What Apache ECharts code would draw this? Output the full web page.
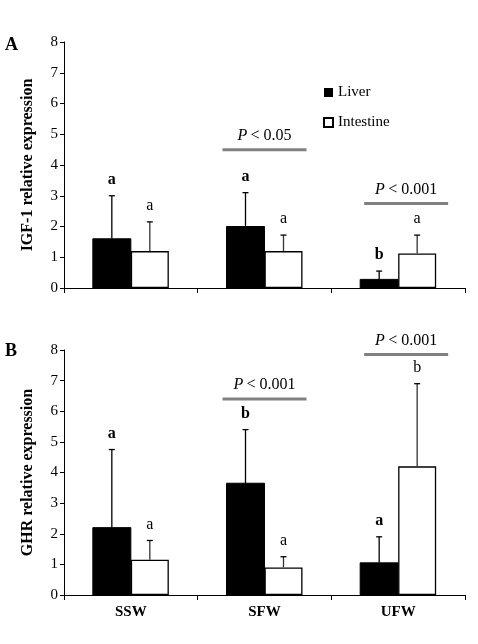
<!DOCTYPE html><html><head><meta charset="utf-8"><script src="https://cdn.jsdelivr.net/npm/echarts@6/dist/echarts.min.js"></script>
<style>html,body{margin:0;background:#fff}#c{width:478px;height:644px}</style></head><body><div id="c"></div><script>
const categories=['SSW','SFW','UFW'];
const igfLiver=[1.6,2.0,0.28], igfLiverErr=[3.0,3.1,0.55], igfLiverLbl=['a','a','b'];
const igfInt=[1.2,1.2,1.12], igfIntErr=[2.15,1.72,1.72], igfIntLbl=['a','a','a'];
const ghrLiver=[2.2,3.65,1.05], ghrLiverErr=[4.75,5.4,1.9], ghrLiverLbl=['a','b','a'];
const ghrInt=[1.15,0.9,4.2], ghrIntErr=[1.78,1.25,6.9], ghrIntLbl=['a','a','b'];
const pA=[[1,4.5,'P < 0.05'],[2,2.75,'P < 0.001']];
const pB=[[1,6.4,'P < 0.001'],[2,7.85,'P < 0.001']];
const yTicks=[0,1,2,3,4,5,6,7,8];
const F='Liberation Serif';
const BW=38;
function errSeries(gi,tops,lbls,off,bold){
 return {type:'custom',xAxisIndex:gi,yAxisIndex:gi,z:5,data:tops.map((t,i)=>[i,t,lbls[i]]),
 renderItem:(p,api)=>{const i=api.value(0);const top=api.coord([i,api.value(1)]);
  const base=api.coord([i,gi==0?[igfLiver,igfInt][off>0?1:0][i]:[ghrLiver,ghrInt][off>0?1:0][i]]);
  const x=top[0]+off;
  return {type:'group',children:[
   {type:'line',shape:{x1:x,y1:base[1],x2:x,y2:top[1]},style:{stroke:bold?'#000':'#333',lineWidth:1.3}},
   {type:'line',shape:{x1:x-3,y1:top[1],x2:x+3,y2:top[1]},style:{stroke:'#000',lineWidth:1.3}},
   {type:'text',style:{text:lbls[i],x:x,y:top[1]-8,textAlign:'center',textVerticalAlign:'bottom',font:(bold?'bold ':'')+'16px '+F,fill:'#000'}}]};
 }};
}
function pSeries(gi,arr){
 return {type:'custom',xAxisIndex:gi,yAxisIndex:gi,z:5,data:arr,
 renderItem:(p,api)=>{const c=api.coord([api.value(0),api.value(1)]);
  const x=c[0]+(api.value(0)==1?0:8);
  return {type:'group',children:[
   {type:'line',shape:{x1:x-42,y1:c[1],x2:x+42,y2:c[1]},style:{stroke:'#808080',lineWidth:3}},
   {type:'text',style:{rich:{i:{fontFamily:F,fontStyle:'italic',fontSize:16},n:{fontFamily:F,fontSize:16}},text:'{i|P} {n|< '+arr[p.dataIndex][2].split('< ')[1]+'}',x:x,y:c[1]-6,textAlign:'center',textVerticalAlign:'bottom',fill:'#000'}}]};
 }};
}
const grids=[{left:64,right:13,top:42,height:246},{left:64,right:13,top:350,height:245}];
const yName=['IGF-1 relative expression','GHR relative expression'];
const option={animation:false,
 textStyle:{fontFamily:F},
 grid:grids,
 legend:{data:['Liver','Intestine'],orient:'vertical',left:318,top:80,itemWidth:9,itemHeight:9,itemGap:15,icon:'rect',textStyle:{fontFamily:F,fontSize:15,color:'#000'}},
 graphic:[{type:'text',left:5,top:36,style:{text:'A',font:'bold 18px '+F}},{type:'text',left:5,top:342,style:{text:'B',font:'bold 18px '+F}}],
 xAxis:[0,1].map(g=>({type:'category',gridIndex:g,data:categories,axisLine:{lineStyle:{color:'#000'}},axisTick:{show:true,length:5,lineStyle:{color:'#000'}},axisLabel:{show:g==1,fontFamily:F,fontWeight:'bold',fontSize:15,color:'#000',margin:10}})),
 yAxis:[0,1].map(g=>({type:'value',gridIndex:g,min:0,max:8,interval:1,name:yName[g],nameLocation:'middle',nameGap:28,nameTextStyle:{fontFamily:F,fontWeight:'bold',fontSize:16,color:'#000'},axisLine:{show:true,lineStyle:{color:'#000'}},axisTick:{show:true,length:4,lineStyle:{color:'#000'}},splitLine:{show:false},axisLabel:{fontFamily:F,fontSize:15,color:'#000',margin:6}})),
 series:[
  {name:'Liver',type:'bar',xAxisIndex:0,yAxisIndex:0,data:igfLiver,barWidth:BW,barGap:'0%',itemStyle:{color:'#000',borderColor:'#000'}},
  {name:'Intestine',type:'bar',xAxisIndex:0,yAxisIndex:0,data:igfInt,barWidth:BW,itemStyle:{color:'#fff',borderColor:'#000',borderWidth:1.3}},
  {name:'Liver',type:'bar',xAxisIndex:1,yAxisIndex:1,data:ghrLiver,barWidth:BW,barGap:'0%',itemStyle:{color:'#000',borderColor:'#000'}},
  {name:'Intestine',type:'bar',xAxisIndex:1,yAxisIndex:1,data:ghrInt,barWidth:BW,itemStyle:{color:'#fff',borderColor:'#000',borderWidth:1.3}},
  errSeries(0,igfLiverErr,igfLiverLbl,-BW/2,true),errSeries(0,igfIntErr,igfIntLbl,BW/2,false),
  errSeries(1,ghrLiverErr,ghrLiverLbl,-BW/2,true),errSeries(1,ghrIntErr,ghrIntLbl,BW/2,false),
  pSeries(0,pA),pSeries(1,pB)
 ]};
echarts.init(document.getElementById('c')).setOption(option);
</script></body></html>
